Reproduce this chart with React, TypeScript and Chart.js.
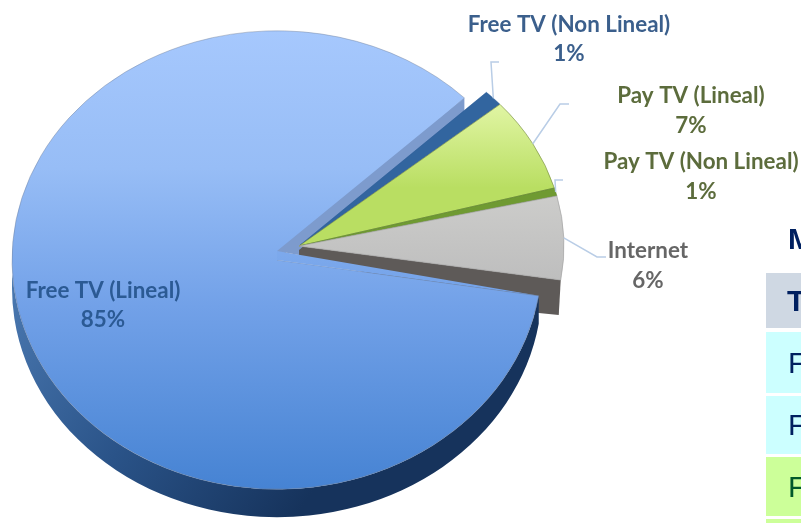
import React, { useEffect, useRef } from "react";
import { Chart, registerables } from "chart.js";

Chart.register(...registerables);

const categories = ["Free TV (Lineal)", "Free TV (Non Lineal)", "Pay TV (Lineal)", "Pay TV (Non Lineal)", "Internet"];
const shares = [85, 1.2, 7, 0.6, 6.2];
const labelColors = ["#2b5a94", "#3b5f8c", "#5c6c3c", "#5c6c3c", "#666666"];
const labelCenters = [[103, 291, 320], [569, 25, 54], [691, 96, 126], [701, 162, 192], [648, 251, 281]];
const leaderElbows = [null, [[491, 62], [499, 62]], [[560, 104], [569, 104]], [[555, 180], [563, 180]], [[597, 257], [606, 257]]];
const tableRows = [
  { text: "T", top: 273, h: 55, bg: "#cfd8e3", color: "#002060", bold: true, left: 787 },
  { text: "F", top: 332, h: 61, bg: "#ccffff", color: "#002060", bold: false, left: 788 },
  { text: "F", top: 396, h: 58, bg: "#ccffff", color: "#002060", bold: false, left: 788 },
  { text: "F", top: 457, h: 59, bg: "#ccff99", color: "#00592a", bold: false, left: 788 },
  { text: "", top: 519, h: 4, bg: "#ccff99", color: "#00592a", bold: false, left: 788 },
];

const BASE_X = 299;
const BASE_Y = 246;
const RADIUS = 265;
const MAIN_SHIFT = [-22, 14];
const MAIN_SQUASH = 0.865;
const SMALL_SQUASH = 0.82;
const DEPTH = 28;
const MAIN_APEX_LIFT = 9;

function frameFor(arc: any, i: number) {
  const main = i === 0;
  return {
    cx: arc.x + (main ? MAIN_SHIFT[0] : 0),
    cy: arc.y + (main ? MAIN_SHIFT[1] : 0),
    k: main ? MAIN_SQUASH : SMALL_SQUASH,
  };
}
function pointOn(arc: any, i: number, angle: number) {
  const f = frameFor(arc, i);
  return [f.cx + Math.cos(angle) * arc.outerRadius, f.cy + Math.sin(angle) * arc.outerRadius * f.k];
}
function poly(ctx: any, pts: number[][], fill: any) {
  ctx.fillStyle = fill;
  ctx.beginPath();
  pts.forEach((p, n) => (n ? ctx.lineTo(p[0], p[1]) : ctx.moveTo(p[0], p[1])));
  ctx.closePath();
  ctx.fill();
}

const pie3d = {
  id: "pie3d",
  beforeDatasetDraw(chart: any) {
    const { ctx, chartArea } = chart;
    const arcs = chart.getDatasetMeta(0).data;
    const m = arcs[0];
    const grey = arcs[4];
    const mf = frameFor(m, 0);
    const gf = frameFor(grey, 4);

    // wall under the Internet slice
    const ge = pointOn(grey, 4, grey.endAngle);
    poly(ctx, [[gf.cx, gf.cy], ge, [ge[0] - 2, ge[1] + 35], [ge[0] - 22, ge[1] + 33], [gf.cx, gf.cy + 11]], "#5e5a58");

    // outer wall of the main slice
    const rimEnd = Math.PI * 1.02;
    const g = ctx.createLinearGradient(0, 300, 300, 510);
    g.addColorStop(0, "#4a78b0");
    g.addColorStop(0.5, "#2a5388");
    g.addColorStop(1, "#16335c");
    ctx.fillStyle = g;
    ctx.beginPath();
    ctx.ellipse(mf.cx, mf.cy, m.outerRadius, m.outerRadius * mf.k, 0, m.startAngle, rimEnd);
    ctx.ellipse(mf.cx, mf.cy + DEPTH, m.outerRadius, m.outerRadius * mf.k, 0, rimEnd, m.startAngle, true);
    ctx.closePath();
    ctx.fill();

    const drawArc = (arc: any, i: number) => {
      const f = frameFor(arc, i);
      ctx.save();
      ctx.translate(f.cx, f.cy);
      ctx.scale(1, f.k);
      ctx.translate(-arc.x, -arc.y);
      arc.draw(ctx, chartArea);
      ctx.restore();
    };

    drawArc(m, 0);

    // the apex of the main slice sits above its ellipse centre
    const apex = [mf.cx, mf.cy - MAIN_APEX_LIFT];
    const ms = pointOn(m, 0, m.startAngle);
    const me = pointOn(m, 0, m.endAngle);
    poly(ctx, [apex, ms, [mf.cx, mf.cy]], m.options.backgroundColor);
    poly(ctx, [apex, me, [me[0], me[1] + 14], [gf.cx, gf.cy + 4], [gf.cx, gf.cy + 9]], "#7d9bcd");

    for (let i = 1; i < arcs.length; i++) drawArc(arcs[i], i);
    return false;
  },
  afterDatasetsDraw(chart: any) {
    const { ctx } = chart;
    const arcs = chart.getDatasetMeta(0).data;
    ctx.save();
    ctx.strokeStyle = "#b9cde6";
    ctx.lineWidth = 1.5;
    arcs.forEach((arc: any, i: number) => {
      const elbow = leaderElbows[i];
      if (!elbow) return;
      const s = pointOn(arc, i, (arc.startAngle + arc.endAngle) / 2);
      ctx.beginPath();
      ctx.moveTo(s[0], s[1]);
      elbow.forEach((p: number[]) => ctx.lineTo(p[0], p[1]));
      ctx.stroke();
    });
    ctx.font = "bold 22.4px Lato";
    ctx.textAlign = "center";
    ctx.textBaseline = "middle";
    categories.forEach((name, i) => {
      const [x, y1, y2] = labelCenters[i];
      ctx.fillStyle = labelColors[i];
      ctx.fillText(name, x, y1);
      ctx.fillText(`${Math.round(shares[i])}%`, x, y2);
    });
    ctx.restore();
  },
};

export default function App() {
  const ref = useRef<HTMLCanvasElement>(null);
  useEffect(() => {
    const canvas = ref.current!;
    const chart = new Chart(canvas, {
      type: "pie",
      data: {
        labels: categories,
        datasets: [
          {
            data: shares,
            borderWidth: 1,
            borderColor: ["rgba(110,125,150,0.45)", "rgba(40,90,150,0.6)", "rgba(120,140,70,0.7)", "rgba(90,130,40,0.6)", "rgba(165,165,165,0.8)"],
            backgroundColor: (c: any) => {
              const { ctx, chartArea } = c.chart;
              if (!chartArea) return "#888";
              const i = c.dataIndex;
              if (i === 1) return "#32659f";
              if (i === 3) return "#6f9a32";
              const r = RADIUS;
              const y = BASE_Y;
              if (i === 0) {
                const g = ctx.createLinearGradient(0, y - r, 0, y + r);
                g.addColorStop(0, "#a6c8fd");
                g.addColorStop(0.3, "#97bdf6");
                g.addColorStop(0.6, "#72a1e8");
                g.addColorStop(1, "#4683d3");
                return g;
              }
              if (i === 2) {
                const g = ctx.createLinearGradient(0, 70, 0, 175);
                g.addColorStop(0, "#e2f6a6");
                g.addColorStop(1, "#b9de62");
                return g;
              }
              const g = ctx.createLinearGradient(0, 178, 0, 294);
              g.addColorStop(0, "#cdcdcb");
              g.addColorStop(1, "#bdbdbd");
              return g;
            },
          },
        ],
      },
      options: {
        animation: false,
        responsive: false,
        rotation: 99,
        radius: RADIUS,
        layout: { padding: { left: 0, top: 0, right: 801 - 2 * BASE_X, bottom: 523 - 2 * BASE_Y } },
        plugins: { legend: { display: false }, tooltip: { enabled: false } },
      } as any,
      plugins: [pie3d],
    });
    return () => chart.destroy();
  }, []);

  return (
    <div style={{ position: "fixed", left: 0, top: 0, width: 801, height: 523, overflow: "hidden", background: "#fff" }}>
      <canvas ref={ref} width={801} height={523} style={{ position: "absolute", left: 0, top: 0 }} />
      <div style={{ position: "absolute", left: 788, top: 222, font: "bold 30px 'Liberation Sans'", color: "#002060" }}>M</div>
      {tableRows.map((r, i) => (
        <div
          key={i}
          style={{
            position: "absolute",
            left: 766,
            top: r.top,
            width: 35,
            height: r.h,
            background: r.bg,
            overflow: "hidden",
          }}
        >
          <span
            style={{
              position: "absolute",
              left: r.left - 766,
              top: (r.h - 34) / 2,
              color: r.color,
              font: `${r.bold ? "bold " : ""}30px 'Liberation Sans'`,
            }}
          >
            {r.text}
          </span>
        </div>
      ))}
    </div>
  );
}
